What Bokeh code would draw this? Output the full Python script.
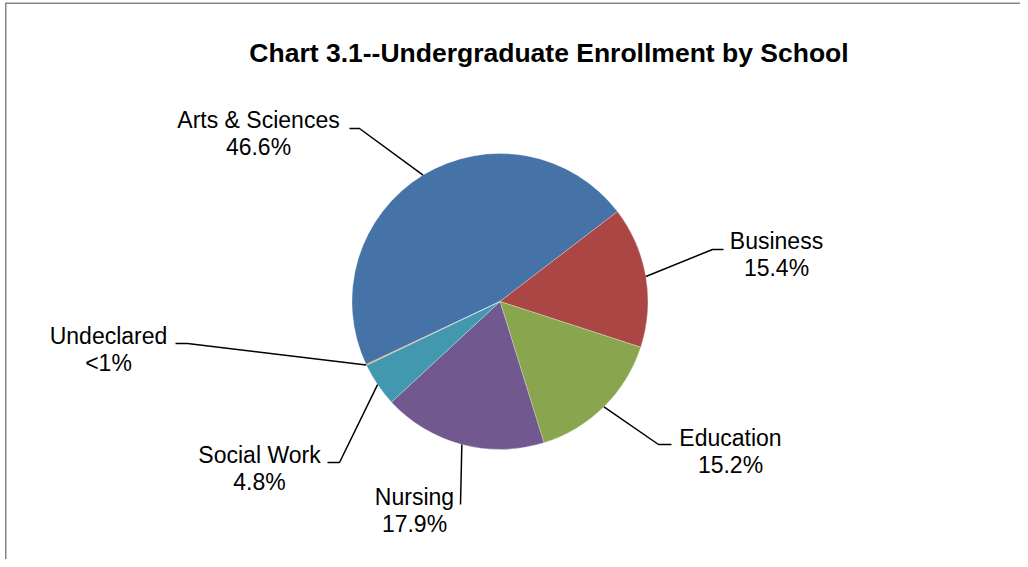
import numpy as np
from bokeh.plotting import figure
from bokeh.models import Range1d, ColumnDataSource
from bokeh.core.properties import value
from bokeh.embed import file_html
from bokeh.resources import INLINE

# ---------------- data ----------------
title_text = "Chart 3.1--Undergraduate Enrollment by School"
categories = ["Arts & Sciences", "Business", "Education", "Nursing", "Social Work", "Undeclared"]
shares = [46.6, 15.4, 15.2, 17.9, 4.8, 0.1]
pct_labels = ["46.6%", "15.4%", "15.2%", "17.9%", "4.8%", "<1%"]

# ---------------- styles / layout ----------------
colors = ["#4572A7", "#AA4643", "#89A54E", "#71588F", "#4198AF", "#DB843D"]
FONT = "Liberation Sans"
FIG_W, FIG_H = 1020, 559


def Y(py):
    return FIG_H - py


CX, CY, R = 499.5, Y(301), 148
START_DEG = 205.2  # first slice starts here, slices run clockwise

# label layout in pixels: (elbow_x, elbow_y, end_x, label_cx, baseline_y)
label_layout = [
    (359, 128, 349, 258, 127),
    (712, 249, 723, 776, 248),
    (658, 444, 671, 730, 445),
    (460, 504, 460, 414, 504),
    (339, 462, 327, 259, 462),
    (187, 343, 175, 108, 343),
]
LINE_GAP = 27.6
LABEL_BASE_FIX = 8     # renderer draws alphabetic baseline lower than asked
TITLE_BASE_FIX = 9.5

# ---------------- geometry from data ----------------
total = float(sum(shares))
frac = np.array(shares) / total
cum = np.concatenate([[0.0], np.cumsum(frac)])
a0 = np.radians(START_DEG)
a_hi = a0 - 2 * np.pi * cum[:-1]
a_lo = a0 - 2 * np.pi * cum[1:]
mid = (a_hi + a_lo) / 2

wedges = ColumnDataSource(dict(
    cat=categories, start=a_lo, end=a_hi, color=colors,
))

p = figure(width=FIG_W, height=FIG_H,
           x_range=Range1d(0, FIG_W), y_range=Range1d(0, FIG_H),
           output_backend="svg", toolbar_location=None, min_border=0,
           background_fill_color="white", border_fill_color="white")
p.axis.visible = False
p.grid.visible = False
p.outline_line_color = None

# chart frame (top and left edges visible in reference)
p.segment(x0=[4.5, 5.25], y0=[Y(2.75), Y(2.5)],
          x1=[FIG_W, 5.25], y1=[Y(2.75), Y(FIG_H)],
          line_color="#868686", line_width=1.5)

p.wedge(x=CX, y=CY, radius=R, start_angle="start", end_angle="end",
        direction="anticlock", fill_color="color", line_color="white",
        line_width=0.4, line_alpha=0.7, source=wedges)

# leader lines
xs, ys = [], []
for m, (ex, ey, hx, _, _) in zip(mid, label_layout):
    sx = CX + R * np.cos(m)
    sy = CY + R * np.sin(m)
    xs.append([sx, ex, hx])
    ys.append([sy, Y(ey), Y(ey)])
p.multi_line(xs=xs, ys=ys, line_color="black", line_width=1.5)

# labels
lx = [l[3] for l in label_layout]
ly1 = [Y(l[4] - LABEL_BASE_FIX) for l in label_layout]
ly2 = [Y(l[4] + LINE_GAP - LABEL_BASE_FIX) for l in label_layout]
p.text(x=lx, y=ly1, text=categories, text_font=value(FONT), text_font_size="23px",
       text_align="center", text_baseline="alphabetic", text_color="black")
p.text(x=lx, y=ly2, text=pct_labels, text_font=value(FONT), text_font_size="23px",
       text_align="center", text_baseline="alphabetic", text_color="black")

# title
p.text(x=[548.5], y=[Y(62.3 - TITLE_BASE_FIX)], text=[title_text], text_font=value(FONT),
       text_font_size="26.5px", text_font_style="bold", text_align="center",
       text_baseline="alphabetic", text_color="black")

open("out.html", "w").write(file_html(p, INLINE))
